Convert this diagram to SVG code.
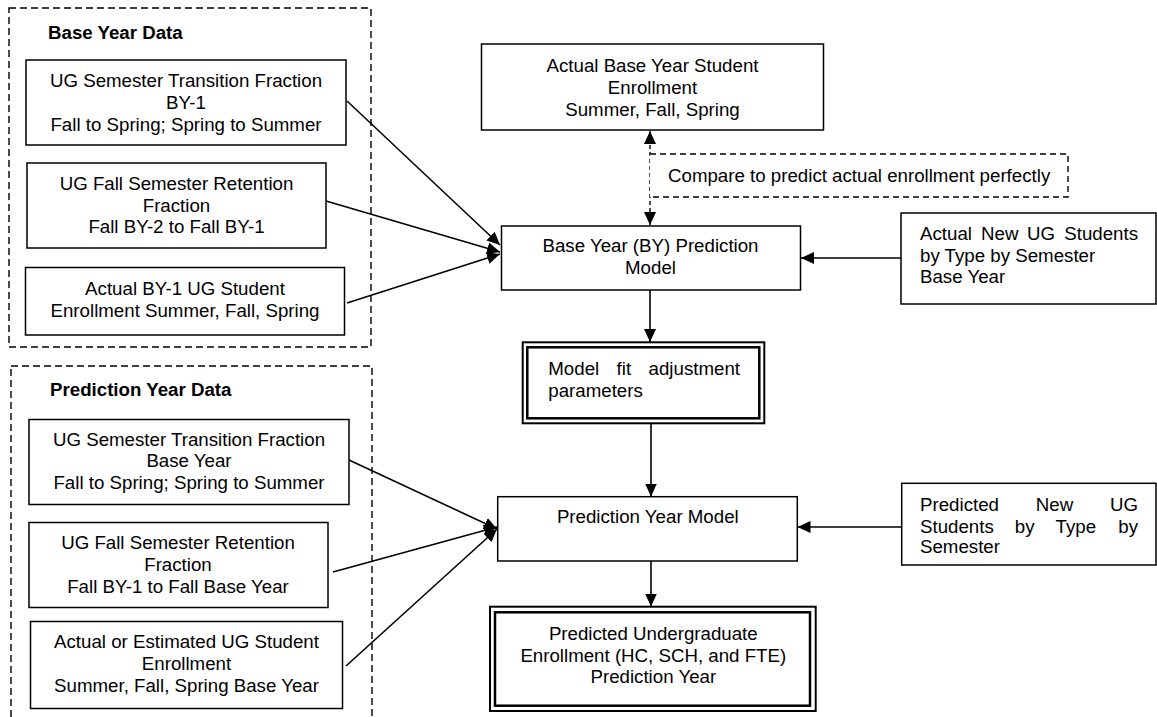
<svg xmlns="http://www.w3.org/2000/svg" width="1157" height="717" viewBox="0 0 1157 717">
<defs>
<style>
text{font-family:"Liberation Sans",Arial,sans-serif;font-size:18.7px;fill:#000}
.c{text-anchor:middle}
.e{text-anchor:end}
.b{font-weight:bold}
.box{fill:#fff;stroke:#000;stroke-width:1.5}
.grp{fill:none;stroke:#000;stroke-width:1.4;stroke-dasharray:7,4}
.dbo{fill:#fff;stroke:#000;stroke-width:2}
.dbi{fill:none;stroke:#000;stroke-width:2.5}
.ln{fill:none;stroke:#000;stroke-width:1.6}
.dash{fill:none;stroke:#000;stroke-width:1.4;stroke-dasharray:4,3}
.cmp{fill:#fff;stroke:#000;stroke-width:1.4;stroke-dasharray:6,4}
</style>
<marker id="ah" markerUnits="userSpaceOnUse" markerWidth="14" markerHeight="14" refX="13" refY="6" orient="auto-start-reverse">
<path d="M0,0 L13,6 L0,12 z" fill="#000"/>
</marker>
</defs>

<g id="group-base-year">
<rect class="grp" x="9" y="8" width="362" height="339"/>
<text class="b" x="48" y="39">Base Year Data</text>
</g>
<g id="group-prediction-year">
<rect class="grp" x="11" y="366" width="361" height="370"/>
<text class="b" x="50" y="396">Prediction Year Data</text>
</g>

<g id="connectors">
<line class="ln" x1="347" y1="101" x2="500" y2="245" marker-end="url(#ah)"/>
<line class="ln" x1="326" y1="201" x2="500" y2="252" marker-end="url(#ah)"/>
<line class="ln" x1="347" y1="303" x2="500" y2="254" marker-end="url(#ah)"/>
<line class="ln" x1="901" y1="258" x2="801" y2="258" marker-end="url(#ah)"/>
<line class="dash" x1="650" y1="131" x2="650" y2="225" marker-start="url(#ah)" marker-end="url(#ah)"/>
<line class="ln" x1="650" y1="290" x2="650" y2="342" marker-end="url(#ah)"/>
<line class="ln" x1="651" y1="423" x2="651" y2="496.5" marker-end="url(#ah)"/>
<line class="ln" x1="349" y1="460" x2="497" y2="529" marker-end="url(#ah)"/>
<line class="ln" x1="333" y1="572" x2="497" y2="527" marker-end="url(#ah)"/>
<line class="ln" x1="346" y1="666" x2="497" y2="529" marker-end="url(#ah)"/>
<line class="ln" x1="901" y1="527" x2="797.5" y2="527" marker-end="url(#ah)"/>
<line class="ln" x1="651" y1="561" x2="651" y2="606.5" marker-end="url(#ah)"/>
</g>

<g id="compare-note">
<path class="cmp" d="M650,154 H1068 V197 H650"/>
<text x="668" y="181.7">Compare to predict actual enrollment perfectly</text>
</g>

<g id="by-transition">
<rect class="box" x="26" y="60" width="320" height="85"/>
<text class="c" x="186" y="87.3">UG Semester Transition Fraction</text>
<text class="c" x="186" y="109.3">BY-1</text>
<text class="c" x="186" y="131">Fall to Spring; Spring to Summer</text>
</g>
<g id="by-retention">
<rect class="box" x="27" y="163" width="299" height="85"/>
<text class="c" x="176.5" y="190">UG Fall Semester Retention</text>
<text class="c" x="176.5" y="211.7">Fraction</text>
<text class="c" x="176.5" y="233.3">Fall BY-2 to Fall BY-1</text>
</g>
<g id="by-enrollment">
<rect class="box" x="25.5" y="267.5" width="319" height="67.5"/>
<text class="c" x="185" y="295">Actual BY-1 UG Student</text>
<text class="c" x="185" y="316.7">Enrollment Summer, Fall, Spring</text>
</g>

<g id="py-transition">
<rect class="box" x="29" y="419.5" width="320" height="85"/>
<text class="c" x="189" y="446">UG Semester Transition Fraction</text>
<text class="c" x="189" y="467.3">Base Year</text>
<text class="c" x="189" y="489.3">Fall to Spring; Spring to Summer</text>
</g>
<g id="py-retention">
<rect class="box" x="29" y="522.5" width="299" height="85"/>
<text class="c" x="178" y="549.3">UG Fall Semester Retention</text>
<text class="c" x="178" y="571">Fraction</text>
<text class="c" x="178" y="592.7">Fall BY-1 to Fall Base Year</text>
</g>
<g id="py-enrollment">
<rect class="box" x="30.5" y="621.5" width="312" height="87"/>
<text class="c" x="186.5" y="648.3">Actual or Estimated UG Student</text>
<text class="c" x="186.5" y="670">Enrollment</text>
<text class="c" x="186.5" y="691.7">Summer, Fall, Spring Base Year</text>
</g>

<g id="actual-base-enrollment">
<rect class="box" x="481.5" y="44" width="342" height="86"/>
<text class="c" x="652.5" y="71.7">Actual Base Year Student</text>
<text class="c" x="652.5" y="94.3">Enrollment</text>
<text class="c" x="652.5" y="116">Summer, Fall, Spring</text>
</g>

<g id="by-model">
<rect class="box" x="501.5" y="226" width="299" height="64"/>
<text class="c" x="650.5" y="252.3">Base Year (BY) Prediction</text>
<text class="c" x="650.5" y="274.3">Model</text>
</g>

<g id="new-ug-actual">
<rect class="box" x="901" y="213" width="255" height="91"/>
<text x="920" y="240">Actual</text>
<text x="981" y="240">New</text>
<text x="1027" y="240">UG</text>
<text class="e" x="1138" y="240">Students</text>
<text x="920" y="262.3">by Type by Semester</text>
<text x="920" y="283.3">Base Year</text>
</g>

<g id="model-fit">
<rect class="dbo" x="522.7" y="342.3" width="241.6" height="81"/>
<rect class="dbi" x="527.3" y="347.3" width="232" height="71"/>
<text x="548.3" y="375">Model</text>
<text x="616.6" y="375">fit</text>
<text class="e" x="740" y="375">adjustment</text>
<text x="548.3" y="397.3">parameters</text>
</g>

<g id="py-model">
<rect class="box" x="497.7" y="496.7" width="299.6" height="64.3"/>
<text class="c" x="647.8" y="523.3">Prediction Year Model</text>
</g>

<g id="new-ug-predicted">
<rect class="box" x="901.7" y="483.3" width="254.3" height="81.7"/>
<text x="920" y="511">Predicted</text>
<text x="1035.8" y="511">New</text>
<text class="e" x="1138" y="511">UG</text>
<text x="920" y="532.7">Students</text>
<text x="1014.8" y="532.7">by</text>
<text x="1055.6" y="532.7">Type</text>
<text class="e" x="1138" y="532.7">by</text>
<text x="920" y="553.3">Semester</text>
</g>

<g id="predicted-enrollment">
<rect class="dbo" x="490" y="606.7" width="325.7" height="104.3"/>
<rect class="dbi" x="495" y="612.3" width="315" height="93.4"/>
<text class="c" x="653.3" y="640">Predicted Undergraduate</text>
<text class="c" x="653.3" y="661.7">Enrollment (HC, SCH, and FTE)</text>
<text class="c" x="653.3" y="682.7">Prediction Year</text>
</g>
</svg>
